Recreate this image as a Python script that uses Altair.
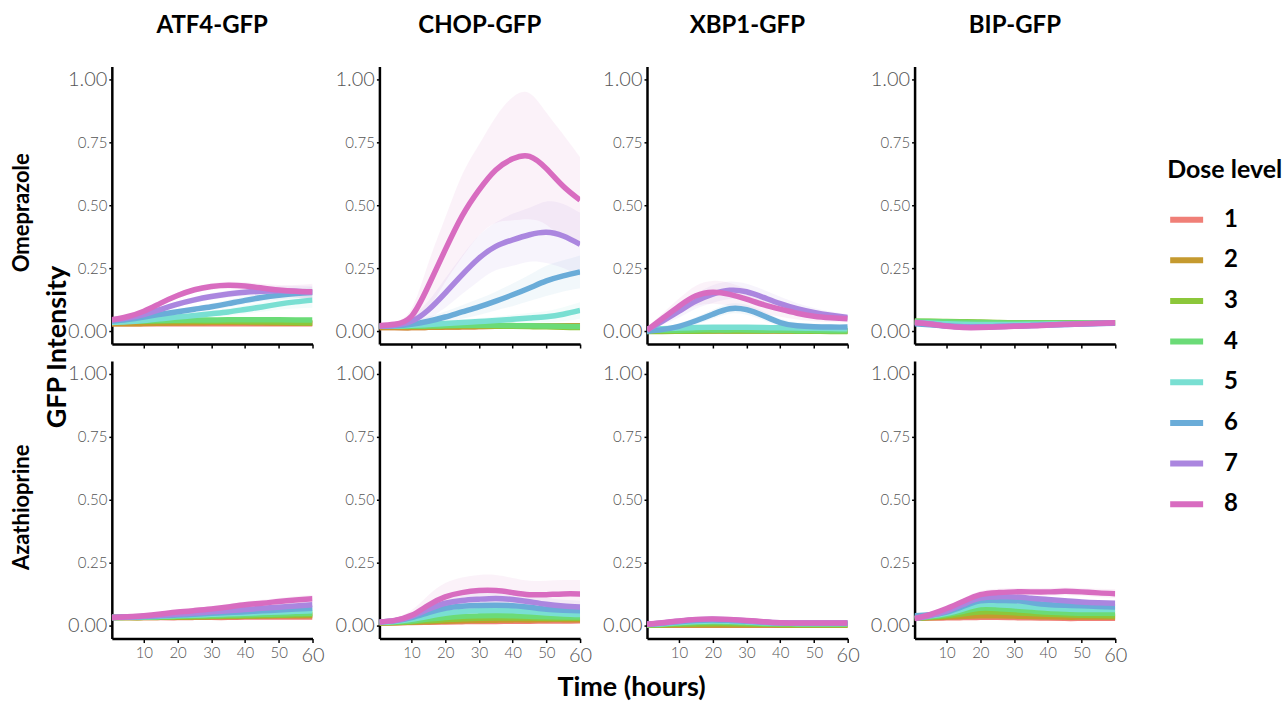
import altair as alt
import pandas as pd

TIMES = [0.5, 5, 10, 15, 20, 25, 30, 35, 40, 45, 50, 55, 60]
DOSES = ["1", "2", "3", "4", "5", "6", "7", "8"]
COLORS = ["#F07F77", "#C59A2F", "#8CC73A", "#6BDB77", "#79DFD2", "#6AACD8", "#AB86DF", "#D86CC0"]
REPORTERS = ["ATF4-GFP", "CHOP-GFP", "XBP1-GFP", "BIP-GFP"]
DRUGS = ["Omeprazole", "Azathioprine"]
Y_TICKS = [0, 0.25, 0.5, 0.75, 1.0]
X_TICKS = [10, 20, 30, 40, 50, 60]

# smoothed mean GFP intensity, one list per dose level 1..8
ATF4_OME = [
    [0.03, 0.03, 0.03, 0.03, 0.03, 0.03, 0.03, 0.03, 0.03, 0.03, 0.03, 0.03, 0.03],
    [0.03, 0.03, 0.031, 0.032, 0.033, 0.034, 0.035, 0.035, 0.035, 0.034, 0.033, 0.032, 0.032],
    [0.04, 0.04, 0.04, 0.041, 0.041, 0.041, 0.04, 0.04, 0.039, 0.038, 0.037, 0.035, 0.034],
    [0.04, 0.041, 0.042, 0.043, 0.044, 0.045, 0.045, 0.046, 0.046, 0.046, 0.046, 0.045, 0.045],
    [0.035, 0.038, 0.043, 0.05, 0.057, 0.063, 0.07, 0.077, 0.087, 0.097, 0.108, 0.117, 0.124],
    [0.04, 0.047, 0.057, 0.068, 0.078, 0.088, 0.098, 0.11, 0.123, 0.134, 0.143, 0.15, 0.154],
    [0.045, 0.053, 0.067, 0.087, 0.108, 0.125, 0.138, 0.148, 0.155, 0.159, 0.161, 0.159, 0.155],
    [0.046, 0.058, 0.08, 0.112, 0.142, 0.165, 0.178, 0.183, 0.18, 0.172, 0.164, 0.159, 0.157],
]
CHOP_OME = [
    [0.015, 0.015, 0.015, 0.016, 0.017, 0.018, 0.019, 0.02, 0.02, 0.02, 0.021, 0.021, 0.022],
    [0.015, 0.015, 0.015, 0.016, 0.017, 0.018, 0.019, 0.02, 0.02, 0.021, 0.021, 0.022, 0.022],
    [0.02, 0.02, 0.02, 0.021, 0.022, 0.022, 0.022, 0.021, 0.02, 0.019, 0.018, 0.016, 0.015],
    [0.02, 0.02, 0.021, 0.022, 0.023, 0.024, 0.024, 0.024, 0.023, 0.022, 0.021, 0.02, 0.019],
    [0.02, 0.021, 0.024, 0.027, 0.031, 0.035, 0.039, 0.043, 0.048, 0.053, 0.058, 0.068, 0.083],
    [0.02, 0.022, 0.028, 0.04, 0.057, 0.077, 0.097, 0.12, 0.145, 0.172, 0.2, 0.22, 0.236],
    [0.02, 0.024, 0.04, 0.085, 0.152, 0.224, 0.29, 0.337, 0.363, 0.383, 0.393, 0.378, 0.345],
    [0.022, 0.028, 0.06, 0.18, 0.323, 0.457, 0.56, 0.64, 0.684, 0.694, 0.645, 0.575, 0.52],
]
XBP1_OME = [
    [0.002, 0.002, 0.002, 0.002, 0.002, 0.002, 0.002, 0.002, 0.002, 0.002, 0.002, 0.002, 0.002],
    [0.002, 0.002, 0.003, 0.003, 0.003, 0.003, 0.003, 0.003, 0.003, 0.003, 0.002, 0.002, 0.002],
    [0.0, 0.0, 0.001, 0.001, 0.002, 0.002, 0.002, 0.002, 0.002, 0.001, 0.001, 0.0, 0.0],
    [0.005, 0.005, 0.005, 0.006, 0.006, 0.006, 0.006, 0.005, 0.005, 0.004, 0.004, 0.003, 0.003],
    [0.01, 0.011, 0.013, 0.015, 0.016, 0.016, 0.016, 0.015, 0.014, 0.013, 0.012, 0.011, 0.01],
    [0.0, 0.007, 0.02, 0.042, 0.068, 0.09, 0.086, 0.062, 0.035, 0.022, 0.018, 0.017, 0.017],
    [0.005, 0.04, 0.08, 0.12, 0.148, 0.163, 0.157, 0.135, 0.11, 0.09, 0.075, 0.064, 0.055],
    [0.005, 0.05, 0.1, 0.141, 0.155, 0.147, 0.128, 0.106, 0.088, 0.072, 0.06, 0.054, 0.05],
]
BIP_OME = [
    [0.035, 0.035, 0.034, 0.033, 0.032, 0.032, 0.032, 0.032, 0.032, 0.033, 0.033, 0.034, 0.034],
    [0.037, 0.037, 0.036, 0.035, 0.034, 0.033, 0.033, 0.033, 0.033, 0.033, 0.033, 0.034, 0.034],
    [0.04, 0.04, 0.039, 0.038, 0.037, 0.035, 0.034, 0.033, 0.033, 0.033, 0.033, 0.033, 0.033],
    [0.04, 0.039, 0.038, 0.036, 0.035, 0.034, 0.033, 0.033, 0.033, 0.033, 0.033, 0.033, 0.034],
    [0.035, 0.033, 0.03, 0.028, 0.027, 0.027, 0.027, 0.028, 0.029, 0.03, 0.031, 0.032, 0.033],
    [0.03, 0.026, 0.021, 0.018, 0.018, 0.019, 0.021, 0.023, 0.025, 0.027, 0.029, 0.031, 0.032],
    [0.035, 0.03, 0.022, 0.018, 0.018, 0.019, 0.021, 0.023, 0.025, 0.027, 0.029, 0.031, 0.033],
    [0.035, 0.029, 0.02, 0.015, 0.015, 0.017, 0.02, 0.022, 0.025, 0.028, 0.03, 0.032, 0.034],
]
ATF4_AZA = [
    [0.033, 0.033, 0.033, 0.033, 0.033, 0.034, 0.034, 0.034, 0.035, 0.035, 0.035, 0.035, 0.035],
    [0.033, 0.033, 0.033, 0.034, 0.034, 0.035, 0.036, 0.037, 0.038, 0.039, 0.04, 0.04, 0.041],
    [0.033, 0.033, 0.034, 0.035, 0.036, 0.037, 0.038, 0.039, 0.04, 0.041, 0.042, 0.044, 0.045],
    [0.033, 0.034, 0.035, 0.036, 0.038, 0.04, 0.041, 0.043, 0.044, 0.046, 0.047, 0.049, 0.05],
    [0.033, 0.034, 0.036, 0.038, 0.041, 0.043, 0.046, 0.048, 0.05, 0.053, 0.055, 0.058, 0.06],
    [0.033, 0.035, 0.037, 0.04, 0.043, 0.046, 0.05, 0.053, 0.056, 0.06, 0.063, 0.067, 0.07],
    [0.033, 0.035, 0.038, 0.042, 0.047, 0.051, 0.056, 0.06, 0.065, 0.07, 0.074, 0.079, 0.084],
    [0.033, 0.036, 0.04, 0.047, 0.055, 0.061, 0.067, 0.075, 0.084, 0.09, 0.097, 0.103, 0.108],
]
CHOP_AZA = [
    [0.012, 0.013, 0.014, 0.015, 0.016, 0.017, 0.018, 0.018, 0.019, 0.019, 0.02, 0.02, 0.021],
    [0.012, 0.013, 0.015, 0.017, 0.019, 0.021, 0.022, 0.023, 0.024, 0.024, 0.025, 0.025, 0.025],
    [0.013, 0.014, 0.017, 0.021, 0.025, 0.028, 0.03, 0.031, 0.031, 0.031, 0.03, 0.03, 0.03],
    [0.014, 0.016, 0.02, 0.027, 0.033, 0.038, 0.04, 0.041, 0.04, 0.038, 0.036, 0.035, 0.035],
    [0.015, 0.018, 0.026, 0.038, 0.05, 0.057, 0.06, 0.061, 0.06, 0.056, 0.051, 0.047, 0.045],
    [0.016, 0.02, 0.033, 0.053, 0.07, 0.078, 0.081, 0.082, 0.08, 0.074, 0.066, 0.062, 0.06],
    [0.016, 0.021, 0.038, 0.066, 0.09, 0.101, 0.106, 0.109, 0.105, 0.096, 0.086, 0.079, 0.075],
    [0.016, 0.022, 0.042, 0.082, 0.115, 0.132, 0.14, 0.14, 0.132, 0.124, 0.124, 0.127, 0.127],
]
XBP1_AZA = [
    [0.003, 0.003, 0.003, 0.003, 0.003, 0.003, 0.003, 0.003, 0.003, 0.003, 0.003, 0.003, 0.003],
    [0.003, 0.003, 0.004, 0.004, 0.004, 0.004, 0.004, 0.004, 0.003, 0.003, 0.003, 0.003, 0.003],
    [0.004, 0.005, 0.007, 0.008, 0.009, 0.009, 0.008, 0.007, 0.006, 0.005, 0.005, 0.005, 0.005],
    [0.005, 0.007, 0.011, 0.014, 0.016, 0.015, 0.013, 0.01, 0.008, 0.007, 0.007, 0.007, 0.007],
    [0.006, 0.009, 0.014, 0.018, 0.02, 0.019, 0.016, 0.013, 0.011, 0.01, 0.01, 0.01, 0.01],
    [0.007, 0.011, 0.017, 0.022, 0.024, 0.022, 0.019, 0.015, 0.012, 0.011, 0.011, 0.011, 0.011],
    [0.007, 0.012, 0.019, 0.025, 0.027, 0.025, 0.021, 0.016, 0.013, 0.012, 0.012, 0.012, 0.012],
    [0.007, 0.013, 0.02, 0.026, 0.028, 0.026, 0.022, 0.017, 0.013, 0.012, 0.012, 0.012, 0.012],
]
BIP_AZA = [
    [0.03, 0.031, 0.032, 0.033, 0.034, 0.034, 0.033, 0.032, 0.031, 0.03, 0.03, 0.03, 0.03],
    [0.03, 0.032, 0.035, 0.038, 0.04, 0.04, 0.039, 0.037, 0.036, 0.035, 0.035, 0.035, 0.035],
    [0.03, 0.034, 0.04, 0.048, 0.055, 0.055, 0.052, 0.049, 0.046, 0.044, 0.042, 0.041, 0.04],
    [0.03, 0.036, 0.045, 0.058, 0.07, 0.069, 0.065, 0.06, 0.055, 0.052, 0.05, 0.05, 0.05],
    [0.035, 0.04, 0.05, 0.068, 0.085, 0.084, 0.08, 0.075, 0.07, 0.067, 0.065, 0.065, 0.065],
    [0.04, 0.044, 0.055, 0.078, 0.1, 0.101, 0.1, 0.093, 0.085, 0.082, 0.08, 0.077, 0.075],
    [0.03, 0.04, 0.06, 0.086, 0.11, 0.115, 0.115, 0.11, 0.105, 0.1, 0.095, 0.092, 0.09],
    [0.029, 0.045, 0.069, 0.098, 0.124, 0.132, 0.135, 0.135, 0.135, 0.137, 0.135, 0.131, 0.128],
]

# half-width of the confidence ribbon, for the dose levels where it is visible
ATF4_OME_BAND = {
    "5": [0.008, 0.008, 0.009, 0.01, 0.011, 0.012, 0.013, 0.015, 0.017, 0.019, 0.022, 0.026, 0.03],
    "6": [0.008, 0.008, 0.009, 0.01, 0.011, 0.012, 0.013, 0.014, 0.015, 0.016, 0.017, 0.019, 0.022],
    "7": [0.01, 0.009, 0.009, 0.01, 0.011, 0.012, 0.013, 0.014, 0.015, 0.017, 0.019, 0.022, 0.026],
    "8": [0.012, 0.01, 0.01, 0.01, 0.011, 0.012, 0.013, 0.014, 0.015, 0.017, 0.02, 0.025, 0.032],
}
CHOP_OME_BAND = {
    "5": [0.008, 0.008, 0.01, 0.011, 0.011, 0.013, 0.014, 0.015, 0.018, 0.02, 0.022, 0.028, 0.033],
    "6": [0.01, 0.01, 0.013, 0.018, 0.022, 0.027, 0.032, 0.037, 0.045, 0.052, 0.06, 0.062, 0.065],
    "7": [0.01, 0.011, 0.018, 0.035, 0.058, 0.076, 0.09, 0.095, 0.103, 0.107, 0.122, 0.127, 0.125],
    "8": [0.013, 0.012, 0.03, 0.09, 0.127, 0.163, 0.18, 0.21, 0.244, 0.25, 0.222, 0.205, 0.17],
}
XBP1_OME_BAND = {
    "6": [0.008, 0.01, 0.012, 0.015, 0.018, 0.02, 0.02, 0.018, 0.015, 0.013, 0.012, 0.011, 0.01],
    "7": [0.01, 0.015, 0.025, 0.03, 0.035, 0.035, 0.032, 0.03, 0.027, 0.022, 0.018, 0.015, 0.013],
    "8": [0.01, 0.02, 0.03, 0.04, 0.045, 0.045, 0.04, 0.035, 0.03, 0.025, 0.02, 0.017, 0.015],
}
BIP_OME_BAND = {
    "8": [0.006, 0.005, 0.005, 0.005, 0.005, 0.005, 0.005, 0.005, 0.005, 0.005, 0.005, 0.005, 0.006],
}
ATF4_AZA_BAND = {
    "7": [0.008, 0.007, 0.007, 0.008, 0.009, 0.009, 0.01, 0.011, 0.012, 0.012, 0.013, 0.014, 0.015],
    "8": [0.008, 0.008, 0.008, 0.009, 0.01, 0.01, 0.011, 0.012, 0.013, 0.014, 0.014, 0.015, 0.015],
}
CHOP_AZA_BAND = {
    "6": [0.006, 0.006, 0.008, 0.012, 0.016, 0.018, 0.02, 0.02, 0.02, 0.019, 0.018, 0.018, 0.018],
    "7": [0.006, 0.008, 0.012, 0.02, 0.025, 0.028, 0.03, 0.03, 0.03, 0.028, 0.026, 0.025, 0.025],
    "8": [0.008, 0.01, 0.02, 0.04, 0.055, 0.06, 0.062, 0.062, 0.058, 0.055, 0.055, 0.055, 0.055],
}
XBP1_AZA_BAND = {
    "8": [0.006, 0.006, 0.007, 0.008, 0.009, 0.009, 0.008, 0.007, 0.006, 0.006, 0.006, 0.006, 0.006],
}
BIP_AZA_BAND = {
    "8": [0.008, 0.008, 0.01, 0.012, 0.014, 0.015, 0.015, 0.015, 0.015, 0.015, 0.015, 0.016, 0.017],
}

PANELS = {
    ("ATF4-GFP", "Omeprazole"): (ATF4_OME, ATF4_OME_BAND),
    ("CHOP-GFP", "Omeprazole"): (CHOP_OME, CHOP_OME_BAND),
    ("XBP1-GFP", "Omeprazole"): (XBP1_OME, XBP1_OME_BAND),
    ("BIP-GFP", "Omeprazole"): (BIP_OME, BIP_OME_BAND),
    ("ATF4-GFP", "Azathioprine"): (ATF4_AZA, ATF4_AZA_BAND),
    ("CHOP-GFP", "Azathioprine"): (CHOP_AZA, CHOP_AZA_BAND),
    ("XBP1-GFP", "Azathioprine"): (XBP1_AZA, XBP1_AZA_BAND),
    ("BIP-GFP", "Azathioprine"): (BIP_AZA, BIP_AZA_BAND),
}

FONT = "Lato"
W, H = 201, 278
INTERP = "natural"

x_scale = alt.Scale(domain=[0.5, 60], nice=False, zero=False)
y_scale = alt.Scale(domain=[-0.05, 1.05], nice=False, zero=False)
color_scale = alt.Scale(domain=DOSES, range=COLORS)

LEGEND = alt.Legend(
    title="Dose level", orient="none", legendX=1057, legendY=92, padding=0,
    symbolType="stroke", symbolStrokeWidth=6, symbolSize=1089,
    titleFont=FONT, titleFontSize=25, titleFontWeight="bold",
    titleColor="black", titlePadding=17,
    labelFont=FONT, labelFontSize=24, labelFontWeight="bold",
    labelColor="black", labelOffset=18, rowPadding=8.7,
)


def panel(rep, drug, ci, ri):
    vals, band = PANELS[(rep, drug)]
    lrows, brows = [], []
    for dose, ys in zip(DOSES, vals):
        for t, y in zip(TIMES, ys):
            lrows.append({"t": t, "v": y, "dose": dose})
        if dose in band:
            for t, y, h in zip(TIMES, ys, band[dose]):
                brows.append({"t": t, "lo": y - h, "hi": y + h, "dose": dose})
    ldf = pd.DataFrame(lrows)
    bdf = pd.DataFrame(brows)

    bottom = ri == 1
    x_kw = dict(
        values=X_TICKS, grid=False, domainColor="black", domainWidth=2.5,
        tickColor="black", tickSize=4, tickWidth=1.5, labelFlush=False,
        labels=bottom, labelFont=FONT, labelColor="#555555", labelPadding=3,
        labelFontWeight=300,
        labelFontSize={"condition": {"test": "datum.value == 60", "value": 20}, "value": 15},
        title=None,
    )
    if bottom and ci == 1:
        x_kw.update(title="Time (hours)", titleFont=FONT, titleFontSize=27,
                    titleFontWeight="bold", titleColor="black", titleX=252,
                    titleY=49, titleAlign="center", titleBaseline="middle")
    y_kw = dict(
        values=Y_TICKS, format=".2f", grid=False, domainColor="black",
        domainWidth=2.5, tickColor="black", tickSize=3, tickWidth=1.5,
        labelFlush=False, labelFont=FONT, labelColor="#555555", labelPadding=2,
        labelFontWeight=300,
        labelFontSize={"condition": {"test": "datum.value == 0 || datum.value == 1", "value": 20}, "value": 15},
        title=None,
    )
    if ci == 0:
        y_kw.update(title=drug, titleFont=FONT, titleFontSize=22,
                    titleFontWeight="bold", titleColor="black", titleAngle=270,
                    titleX=-90, titleY=146, titleAlign="center",
                    titleBaseline="middle")

    x = alt.X("t:Q", scale=x_scale, axis=alt.Axis(**x_kw))
    layers = []
    if len(bdf):
        layers.append(
            alt.Chart(bdf).mark_area(interpolate=INTERP, fillOpacity=0.09, clip=True)
            .encode(x=x, y=alt.Y("lo:Q", scale=y_scale, axis=alt.Axis(**y_kw)), y2="hi:Q",
                    fill=alt.Fill("dose:N", scale=color_scale, legend=LEGEND))
        )
    layers.append(
        alt.Chart(ldf).mark_line(interpolate=INTERP, strokeWidth=5.5, clip=True)
        .encode(
            x=x,
            y=alt.Y("v:Q", scale=y_scale, axis=alt.Axis(**y_kw)),
            color=alt.Color("dose:N", scale=color_scale, legend=LEGEND),
        )
    )
    if ci == 0 and ri == 0:
        layers.append(
            alt.Chart(pd.DataFrame({"label": ["GFP Intensity"]}))
            .mark_text(angle=270, font=FONT, fontSize=27, fontWeight="bold",
                       align="center", baseline="middle", color="black")
            .encode(text="label:N", x=alt.value(-54), y=alt.value(281))
        )
    props = dict(width=W, height=H)
    if ri == 0:
        props["title"] = alt.TitleParams(
            rep, font=FONT, fontSize=24, fontWeight="bold", color="black",
            anchor="middle", frame="group", offset=28,
        )
    return alt.layer(*layers).properties(**props)


panels = [panel(rep, drug, ci, ri)
          for ri, drug in enumerate(DRUGS)
          for ci, rep in enumerate(REPORTERS)]

chart = (
    alt.concat(*panels, columns=4, spacing={"row": 17, "column": 67}, bounds="flush")
    .properties(padding={"left": 11, "top": 14, "right": 5, "bottom": 5}, background="white")
    .configure_view(stroke=None)
)

chart.save("out.html", embed_options={"renderer": "svg", "actions": False})
